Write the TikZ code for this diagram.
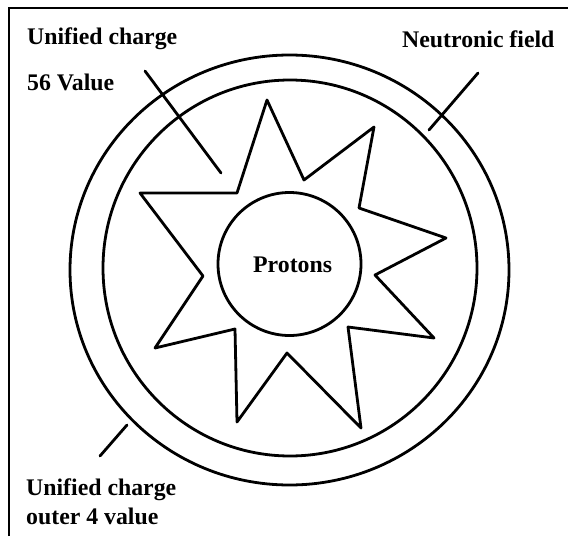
\documentclass[tikz,border=0pt]{standalone}
\usepackage{fontspec}
\setmainfont{Liberation Serif}
\begin{document}
\begin{tikzpicture}[x=1pt,y=-1pt,
  ink/.style={line width=2.8pt,line join=round,line cap=round},
  lbl/.style={font=\bfseries\fontsize{23.8}{28}\selectfont,inner sep=0pt,anchor=base west}]
\useasboundingbox (0,0) rectangle (568,546);
% frame (top and left only)
\draw[line width=2.4pt] (9,536) -- (9,8) -- (568,8);
% rings
\draw[ink] (289.5,270) ellipse [x radius=219.5, y radius=215];
\draw[ink] (290,268) ellipse [x radius=187, y radius=188];
% star
\draw[ink] (267,100) -- (304,180) -- (374,127) -- (359,208) -- (446,238) -- (375,275)
  -- (434,338) -- (348,327) -- (361,428) -- (287,353) -- (237,422) -- (235,329)
  -- (155,348) -- (203,276) -- (140,193) -- (237,193) -- cycle;
% protons
\draw[ink] (289.5,264) circle [radius=71.5];
\node[lbl] (protons) at (253,272) {Protons};
% labels
\node[lbl] (uc) at (27,45) {Unified charge};
\node[lbl] (v56) at (27,90) {56 Value};
\node[lbl] (nf) at (402,47) {Neutronic field};
\node[lbl] (uc2) at (26,495) {Unified charge};
\node[lbl] (o4) at (26,524) {outer 4 value};
% leader lines
\coordinate (a1) at (145,71); \coordinate (a2) at (221,173);
\coordinate (b1) at (478,73); \coordinate (b2) at (429,130);
\coordinate (c1) at (127,425); \coordinate (c2) at (100,456);
\draw[ink] (a1) -- (a2);
\draw[ink] (b1) -- (b2);
\draw[ink] (c1) -- (c2);
\end{tikzpicture}
\end{document}
